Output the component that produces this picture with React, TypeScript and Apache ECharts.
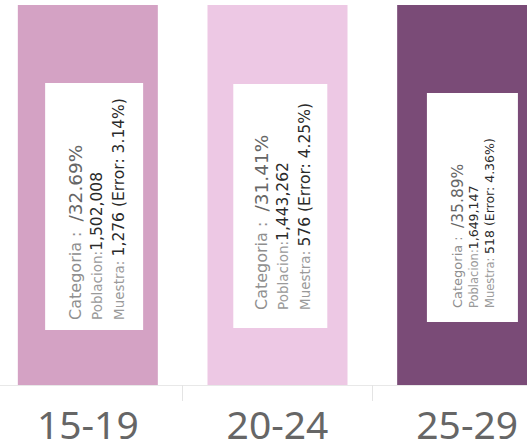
import React, { useEffect, useRef } from "react";
import * as echarts from "echarts";

const categories = ["15-19", "20-24", "25-29"];
const categoriaPct = [32.69, 31.41, 35.89];
const poblacion = [1502008, 1443262, 1649147];
const muestra = [1276, 576, 518];
const errorPct = [3.14, 4.25, 4.36];

const barColors = ["#d4a2c4", "#edc8e4", "#7a4b77"];

type LblStyle = {
  pos: [string, string];
  padding: number[];
  width: number;
  sizes: [number, number, number, number];
  lh: number;
};

const labelStyles: LblStyle[] = [
  { pos: ["54.5%", "53%"], padding: [19, 10, 13, 10], width: 227, sizes: [16, 18.5, 13.5, 15.5], lh: 22 },
  { pos: ["52%", "52.9%"], padding: [17, 10, 11, 18], width: 216, sizes: [16, 18.5, 13.5, 15.5], lh: 22 },
  { pos: ["53.75%", "53.3%"], padding: [23, 10, 20, 14], width: 205, sizes: [13, 15.5, 11.5, 12.5], lh: 16 },
];

const fmt = (n: number) => n.toLocaleString("en-US");

function makeLabel(i: number) {
  const s = labelStyles[i];
  const ff = "DejaVu Sans";
  return {
    show: true,
    position: s.pos,
    rotate: 90,
    align: "center",
    verticalAlign: "middle",
    backgroundColor: "#ffffff",
    padding: s.padding,
    width: s.width,
    overflow: "none",
    formatter: () =>
      `{cl|Categoria :  }{cv|/${categoriaPct[i].toFixed(2)}%}\n` +
      `{pl|Poblacion:}{pv|${fmt(poblacion[i])}}\n` +
      `{pl|Muestra: }{pv|${fmt(muestra[i])} (Error: ${errorPct[i].toFixed(2)}%)}`,
    rich: {
      cl: { fontFamily: ff, fontSize: s.sizes[0], color: "#8f8f8f", lineHeight: s.lh, align: "left" },
      cv: { fontFamily: ff, fontSize: s.sizes[1], color: "#666666", lineHeight: s.lh, align: "left" },
      pl: { fontFamily: ff, fontSize: s.sizes[2], color: "#9a9a9a", lineHeight: s.lh, align: "left" },
      pv: { fontFamily: ff, fontSize: s.sizes[3], color: "#2a2a2a", lineHeight: s.lh, align: "left" },
    },
  };
}

export default function App() {
  const ref = useRef<HTMLDivElement>(null);
  useEffect(() => {
    if (!ref.current) return;
    const chart = echarts.init(ref.current, null, { renderer: "svg" });
    chart.setOption({
      animation: false,
      grid: { left: 0, right: 0, top: 5, bottom: 63 },
      xAxis: {
        type: "category",
        data: categories,
        axisLine: { lineStyle: { color: "#e8e8e8", width: 1 } },
        axisTick: { show: true, length: 16, lineStyle: { color: "#e4e4e4", width: 1 } },
        axisLabel: {
          fontSize: 39,
          lineHeight: 38,
          color: "#666666",
          margin: 19,
          fontFamily: "Noto Sans",
        },
      },
      yAxis: { type: "value", min: 0, max: 30, show: false },
      series: [
        {
          type: "bar",
          barWidth: 140,
          clip: true,
          data: categoriaPct.map((v, i) => ({
            value: v,
            itemStyle: { color: barColors[i] },
            label: makeLabel(i),
          })),
        },
      ],
    });
    return () => chart.dispose();
  }, []);
  return (
    <div
      style={{
        position: "absolute",
        left: 0,
        top: 0,
        width: 527,
        height: 448,
        overflow: "hidden",
      }}
    >
      <div
        ref={ref}
        style={{ position: "absolute", left: -7, top: 0, width: 569, height: 448 }}
      />
    </div>
  );
}
